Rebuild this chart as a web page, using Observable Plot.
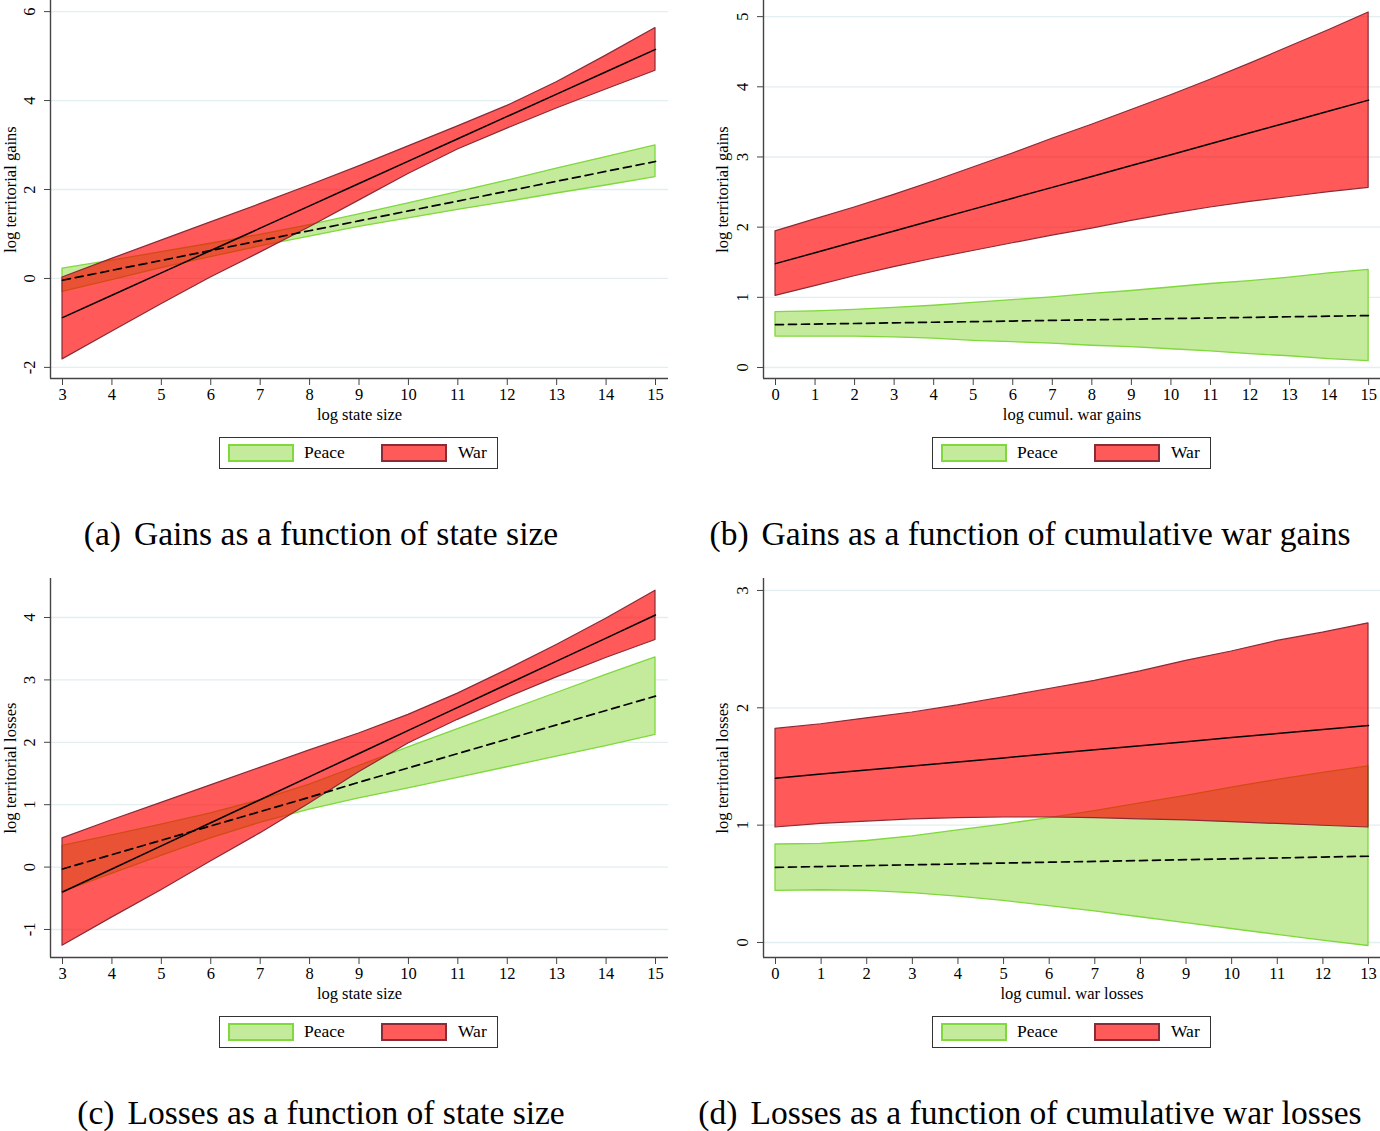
<!DOCTYPE html>
<html>
<head>
<meta charset="utf-8">
<script src="https://cdn.jsdelivr.net/npm/d3@7"></script>
<script src="https://cdn.jsdelivr.net/npm/@observablehq/plot@0.6"></script>
<style>
  html, body { margin: 0; padding: 0; background: #fff; }
  body { width: 1380px; height: 1131px; position: relative; overflow: hidden; font-family: "Liberation Serif", "Times New Roman", serif; color: #000; }
  .legend { position: absolute; box-sizing: border-box; border: 1.5px solid #333; background: #fff; }
  .sw { position: absolute; box-sizing: border-box; width: 66px; height: 18px; top: 6px; }
  .lt { position: absolute; top: 3px; font-size: 17.5px; line-height: 22px; }
  .caption { position: absolute; font-size: 33.5px; white-space: nowrap; transform: translateX(-50%); line-height: 38px; }
  .caption .lab { margin-right: 13px; }
</style>
</head>
<body>
<div id="root"></div>
<script>
// ---------- data ----------
// (a) gains vs log state size
const aX = [3, 4, 5, 6, 7, 8, 9, 10, 11, 12, 13, 14, 15];
const aWarFit = [-0.88, -0.377, 0.125, 0.628, 1.130, 1.633, 2.135, 2.638, 3.140, 3.643, 4.145, 4.648, 5.15];
const aWarHi  = [0.02, 0.44, 0.85, 1.26, 1.67, 2.09, 2.52, 2.97, 3.42, 3.88, 4.41, 5.01, 5.63];
const aWarLo  = [-1.82, -1.20, -0.58, 0.02, 0.58, 1.15, 1.75, 2.35, 2.90, 3.37, 3.82, 4.25, 4.67];
const aPeaceFit = [-0.04, 0.183, 0.405, 0.628, 0.850, 1.073, 1.295, 1.518, 1.740, 1.963, 2.185, 2.408, 2.63];
const aPeaceHi  = [0.22, 0.40, 0.59, 0.78, 0.98, 1.20, 1.44, 1.69, 1.94, 2.20, 2.47, 2.73, 2.99];
const aPeaceLo  = [-0.30, -0.04, 0.23, 0.48, 0.72, 0.94, 1.16, 1.35, 1.54, 1.72, 1.91, 2.09, 2.28];
const aXTicks = [3, 4, 5, 6, 7, 8, 9, 10, 11, 12, 13, 14, 15];
const aYTicks = [-2, 0, 2, 4, 6];

// (b) gains vs log cumulative war gains
const bX = [0, 1, 2, 3, 4, 5, 6, 7, 8, 9, 10, 11, 12, 13, 14, 15];
const bWarFit = [1.480, 1.635, 1.791, 1.946, 2.101, 2.257, 2.412, 2.567, 2.722, 2.878, 3.033, 3.188, 3.344, 3.499, 3.654, 3.810];
const bWarHi  = [1.94, 2.11, 2.28, 2.46, 2.65, 2.85, 3.05, 3.26, 3.46, 3.67, 3.88, 4.10, 4.33, 4.57, 4.81, 5.06];
const bWarLo  = [1.02, 1.16, 1.30, 1.43, 1.55, 1.66, 1.77, 1.88, 1.98, 2.09, 2.19, 2.28, 2.36, 2.43, 2.50, 2.56];
const bPeaceFit = [0.610, 0.619, 0.627, 0.636, 0.645, 0.653, 0.662, 0.671, 0.679, 0.688, 0.697, 0.705, 0.714, 0.723, 0.731, 0.740];
const bPeaceHi  = [0.79, 0.80, 0.82, 0.85, 0.88, 0.92, 0.96, 1.00, 1.05, 1.09, 1.14, 1.19, 1.23, 1.28, 1.34, 1.39];
const bPeaceLo  = [0.44, 0.44, 0.44, 0.43, 0.41, 0.38, 0.36, 0.34, 0.31, 0.29, 0.26, 0.23, 0.19, 0.16, 0.12, 0.09];
const bXTicks = [0, 1, 2, 3, 4, 5, 6, 7, 8, 9, 10, 11, 12, 13, 14, 15];
const bYTicks = [0, 1, 2, 3, 4, 5];

// (c) losses vs log state size
const cX = [3, 4, 5, 6, 7, 8, 9, 10, 11, 12, 13, 14, 15];
const cWarFit = [-0.40, -0.03, 0.34, 0.71, 1.08, 1.45, 1.82, 2.19, 2.56, 2.93, 3.30, 3.67, 4.04];
const cWarHi  = [0.46, 0.75, 1.03, 1.31, 1.59, 1.87, 2.14, 2.44, 2.78, 3.16, 3.56, 3.98, 4.43];
const cWarLo  = [-1.26, -0.81, -0.37, 0.09, 0.54, 1.02, 1.52, 1.98, 2.36, 2.71, 3.04, 3.35, 3.64];
const cPeaceFit = [-0.03, 0.20, 0.43, 0.66, 0.89, 1.12, 1.36, 1.59, 1.82, 2.05, 2.28, 2.51, 2.74];
const cPeaceHi  = [0.34, 0.51, 0.68, 0.86, 1.07, 1.32, 1.62, 1.92, 2.21, 2.50, 2.79, 3.08, 3.36];
const cPeaceLo  = [-0.40, -0.11, 0.18, 0.46, 0.71, 0.92, 1.10, 1.26, 1.43, 1.60, 1.77, 1.94, 2.12];
const cXTicks = [3, 4, 5, 6, 7, 8, 9, 10, 11, 12, 13, 14, 15];
const cYTicks = [-1, 0, 1, 2, 3, 4];

// (d) losses vs log cumulative war losses
const dX = [0, 1, 2, 3, 4, 5, 6, 7, 8, 9, 10, 11, 12, 13];
const dWarFit = [1.400, 1.435, 1.469, 1.504, 1.538, 1.573, 1.608, 1.642, 1.677, 1.711, 1.746, 1.781, 1.815, 1.850];
const dWarHi  = [1.82, 1.86, 1.91, 1.96, 2.02, 2.09, 2.16, 2.23, 2.31, 2.40, 2.48, 2.57, 2.64, 2.72];
const dWarLo  = [0.98, 1.01, 1.03, 1.05, 1.06, 1.065, 1.065, 1.06, 1.05, 1.04, 1.025, 1.01, 0.995, 0.98];
const dPeaceFit = [0.640, 0.647, 0.655, 0.662, 0.669, 0.677, 0.684, 0.691, 0.698, 0.706, 0.713, 0.720, 0.728, 0.735];
const dPeaceHi  = [0.835, 0.84, 0.865, 0.905, 0.955, 1.005, 1.06, 1.12, 1.185, 1.25, 1.32, 1.385, 1.445, 1.50];
const dPeaceLo  = [0.44, 0.445, 0.44, 0.42, 0.39, 0.355, 0.31, 0.265, 0.215, 0.165, 0.115, 0.065, 0.015, -0.03];
const dXTicks = [0, 1, 2, 3, 4, 5, 6, 7, 8, 9, 10, 11, 12, 13];
const dYTicks = [0, 1, 2, 3];

const seriesNames = ["Peace", "War"];
const captionLabels = ["(a)", "(b)", "(c)", "(d)"];
const captionTexts = [
  "Gains as a function of state size",
  "Gains as a function of cumulative war gains",
  "Losses as a function of state size",
  "Losses as a function of cumulative war losses"
];
const xTitles = ["log state size", "log cumul. war gains", "log state size", "log cumul. war losses"];
const yTitles = ["log territorial gains", "log territorial gains", "log territorial losses", "log territorial losses"];

// ---------- style ----------
const PEACE_FILL = "#c4ea9c", PEACE_STROKE = "#7fd83c";
const WAR_FILL = "#ff0000", WAR_OPACITY = 0.65, WAR_STROKE = "#8a2b36", WAR_SWATCH = "#ff5a5a";
const GRID = "#e2eef0", AXIS = "#444";

function rows(x, fit, lo, hi) { return x.map((v, i) => ({x: v, fit: fit[i], lo: lo[i], hi: hi[i]})); }

function makePanel(cfg) {
  const war = rows(cfg.x, cfg.warFit, cfg.warLo, cfg.warHi);
  const peace = rows(cfg.x, cfg.peaceFit, cfg.peaceLo, cfg.peaceHi);
  const svg = Plot.plot({
    width: cfg.width, height: cfg.height,
    marginLeft: cfg.ml, marginRight: cfg.mr, marginTop: cfg.mt, marginBottom: cfg.mb,
    style: {fontFamily: "'Liberation Serif', 'Times New Roman', serif", fontSize: "16.5px", background: "transparent", color: "#000", overflow: "visible"},
    x: {domain: cfg.xDomain},
    y: {domain: cfg.yDomain},
    marks: [
      Plot.gridY(cfg.yTicks, {stroke: GRID, strokeOpacity: 1, strokeWidth: 1.3}),
      Plot.areaY(peace, {x: "x", y1: "lo", y2: "hi", fill: PEACE_FILL, stroke: PEACE_STROKE, strokeWidth: 1.3}),
      Plot.areaY(war, {x: "x", y1: "lo", y2: "hi", fill: WAR_FILL, fillOpacity: WAR_OPACITY, stroke: WAR_STROKE, strokeWidth: 1.2}),
      Plot.lineY(peace, {x: "x", y: "fit", stroke: "#000", strokeWidth: 1.7, strokeDasharray: "8,5"}),
      Plot.lineY(war, {x: "x", y: "fit", stroke: "#000", strokeWidth: 1.5}),
      Plot.ruleX([cfg.xDomain[0]], {stroke: AXIS, strokeWidth: 1.4}),
      Plot.ruleY([cfg.yDomain[0]], {stroke: AXIS, strokeWidth: 1.4}),
      Plot.axisX({ticks: cfg.xTicks, tickFormat: d => String(d), tickSize: 7, tickPadding: 3, stroke: AXIS, label: cfg.xTitle, labelAnchor: "center", labelArrow: "none", labelOffset: 41}),
      Plot.axisY({ticks: cfg.yTicks, tickFormat: d => String(d), tickSize: 6, tickPadding: 10, tickRotate: -90, stroke: AXIS, label: cfg.yTitle, labelAnchor: "center", labelArrow: "none", labelOffset: cfg.yLabelOffset})
    ]
  });
  svg.style.position = "absolute";
  svg.style.left = cfg.left + "px";
  svg.style.top = cfg.top + "px";
  document.getElementById("root").appendChild(svg);

  // legend box
  const lg = document.createElement("div");
  lg.className = "legend";
  lg.style.left = cfg.legendLeft + "px";
  lg.style.top = cfg.legendTop + "px";
  lg.style.width = "279px";
  lg.style.height = "32px";
  const s1 = document.createElement("div"); s1.className = "sw";
  s1.style.left = "8px"; s1.style.background = PEACE_FILL; s1.style.border = "2px solid " + PEACE_STROKE;
  const t1 = document.createElement("div"); t1.className = "lt"; t1.style.left = "84px"; t1.textContent = seriesNames[0];
  const s2 = document.createElement("div"); s2.className = "sw";
  s2.style.left = "161px"; s2.style.background = WAR_SWATCH; s2.style.border = "2px solid " + WAR_STROKE;
  const t2 = document.createElement("div"); t2.className = "lt"; t2.style.left = "238px"; t2.textContent = seriesNames[1];
  lg.append(s1, t1, s2, t2);
  document.getElementById("root").appendChild(lg);

  // caption
  const cap = document.createElement("div");
  cap.className = "caption";
  cap.style.left = cfg.capCenter + "px";
  cap.style.top = cfg.capTop + "px";
  const l = document.createElement("span"); l.className = "lab"; l.textContent = cfg.capLabel;
  const t = document.createElement("span"); t.textContent = cfg.capText;
  cap.append(l, t);
  document.getElementById("root").appendChild(cap);
}

const panels = [
  {x: aX, warFit: aWarFit, warLo: aWarLo, warHi: aWarHi, peaceFit: aPeaceFit, peaceLo: aPeaceLo, peaceHi: aPeaceHi,
   xTicks: aXTicks, yTicks: aYTicks, xDomain: [2.757, 15.263], yDomain: [-2.25, 6.25],
   left: 0, top: 0, width: 690, height: 430, ml: 50, mr: 22, mt: 0, mb: 52, yLabelOffset: 46,
   legendLeft: 219, legendTop: 437, capCenter: 321, capTop: 515, idx: 0},
  {x: bX, warFit: bWarFit, warLo: bWarLo, warHi: bWarHi, peaceFit: bPeaceFit, peaceLo: bPeaceLo, peaceHi: bPeaceHi,
   xTicks: bXTicks, yTicks: bYTicks, xDomain: [-0.3036, 15.30], yDomain: [-0.157, 5.23],
   left: 690, top: 0, width: 690, height: 430, ml: 73, mr: 0, mt: 0, mb: 52, yLabelOffset: 47,
   legendLeft: 932, legendTop: 437, capCenter: 1030, capTop: 515, idx: 1},
  {x: cX, warFit: cWarFit, warLo: cWarLo, warHi: cWarHi, peaceFit: cPeaceFit, peaceLo: cPeaceLo, peaceHi: cPeaceHi,
   xTicks: cXTicks, yTicks: cYTicks, xDomain: [2.757, 15.263], yDomain: [-1.449, 4.625],
   left: 0, top: 578, width: 690, height: 430, ml: 50, mr: 22, mt: 0, mb: 51, yLabelOffset: 46,
   legendLeft: 219, legendTop: 1016, capCenter: 321, capTop: 1094, idx: 2},
  {x: dX, warFit: dWarFit, warLo: dWarLo, warHi: dWarHi, peaceFit: dPeaceFit, peaceLo: dPeaceLo, peaceHi: dPeaceHi,
   xTicks: dXTicks, yTicks: dYTicks, xDomain: [-0.263, 13.263], yDomain: [-0.128, 3.102],
   left: 690, top: 578, width: 690, height: 430, ml: 73, mr: 0, mt: 0, mb: 51, yLabelOffset: 47,
   legendLeft: 932, legendTop: 1016, capCenter: 1030, capTop: 1094, idx: 3}
];

panels.forEach(p => makePanel({...p, xTitle: xTitles[p.idx], yTitle: yTitles[p.idx], capLabel: captionLabels[p.idx], capText: captionTexts[p.idx]}));
</script>
</body>
</html>
